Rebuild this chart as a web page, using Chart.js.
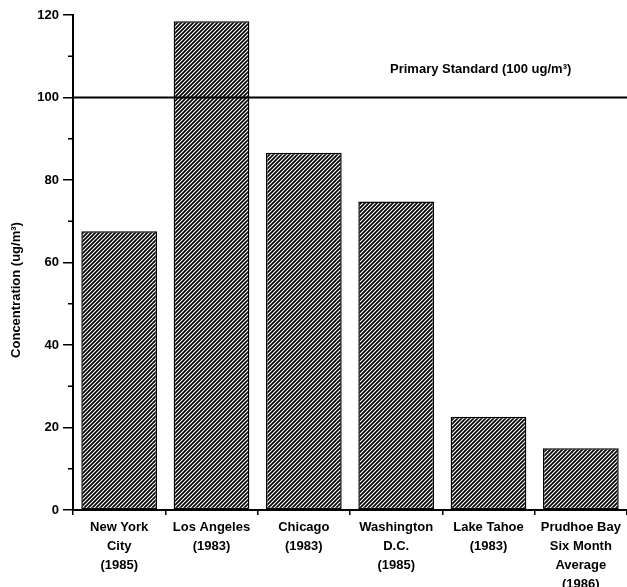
<!DOCTYPE html>
<html lang="en">
<head>
    <meta charset="UTF-8">
    <title>Concentration by City</title>
    <script src="https://cdn.jsdelivr.net/npm/chart.js"></script>
    <style>
        body { margin: 0; background: #fff; }
        #chartContainer { width: 627px; height: 587px; }
    </style>
</head>
<body>

<div id="chartContainer">
    <canvas id="concChart" width="627" height="587"></canvas>
</div>

<script>
    const tickLabels = [
        ['New York', 'City', '(1985)'],
        ['Los Angeles', '(1983)'],
        ['Chicago', '(1983)'],
        ['Washington', 'D.C.', '(1985)'],
        ['Lake Tahoe', '(1983)'],
        ['Prudhoe Bay', 'Six Month', 'Average', '(1986)']
    ];
    const concentration = [67.6, 118.5, 86.6, 74.8, 22.6, 15.0];
    const yTicks = [0, 20, 40, 60, 80, 100, 120];
    const minorTicks = [10, 30, 50, 70, 90, 110];
    const standardValue = 100;
    const standardLabel = 'Primary Standard (100 ug/m\u00B3)';
    const yTitle = 'Concentration (ug/m\u00B3)';

    const FONT = "'Liberation Sans', Arial, sans-serif";

    // diagonal hatch fill
    function makeHatch() {
        const c = document.createElement('canvas');
        c.width = 4; c.height = 4;
        const g = c.getContext('2d');
        g.fillStyle = '#fff';
        g.fillRect(0, 0, 4, 4);
        g.strokeStyle = '#000';
        g.lineWidth = 1.7;
        g.beginPath();
        g.moveTo(-1, 5); g.lineTo(5, -1);
        g.moveTo(-1, 1); g.lineTo(1, -1);
        g.moveTo(3, 5); g.lineTo(5, 3);
        g.stroke();
        return g.createPattern(c, 'repeat');
    }

    const ctx = document.getElementById('concChart').getContext('2d');

    const extras = {
        id: 'extras',
        afterDatasetsDraw(chart) {
            const ys = chart.scales.y;
            const y = ys.getPixelForValue(standardValue);
            const area = chart.chartArea;
            const c = chart.ctx;
            c.save();
            c.strokeStyle = '#000';
            c.lineWidth = 1.8;
            c.beginPath();
            c.moveTo(area.left, y);
            c.lineTo(627, y);
            c.stroke();

            c.fillStyle = '#000';
            c.font = 'bold 13px ' + FONT;
            c.textAlign = 'left';
            c.textBaseline = 'middle';
            c.fillText(standardLabel, 390, y - 28);

            // minor ticks on the y axis
            c.lineWidth = 1.5;
            minorTicks.forEach(v => {
                const py = ys.getPixelForValue(v);
                c.beginPath();
                c.moveTo(area.left - 5, py);
                c.lineTo(area.left, py);
                c.stroke();
            });

            // y axis title
            c.translate(16, 290);
            c.rotate(-Math.PI / 2);
            c.textAlign = 'center';
            c.font = 'bold 13px ' + FONT;
            c.fillText(yTitle, 0, 0);
            c.restore();
        }
    };

    new Chart(ctx, {
        type: 'bar',
        data: {
            labels: tickLabels,
            datasets: [{
                data: concentration,
                backgroundColor: makeHatch(),
                borderColor: '#000',
                borderWidth: 1.5,
                borderSkipped: false,
                barPercentage: 0.82,
                categoryPercentage: 1.0
            }]
        },
        options: {
            responsive: false,
            animation: false,
            layout: { padding: { top: 15, right: 0, left: 0, bottom: 0 } },
            plugins: {
                legend: { display: false },
                tooltip: { enabled: false }
            },
            scales: {
                x: {
                    grid: { display: true, drawOnChartArea: false, tickLength: 5, color: '#000', lineWidth: 1.5 },
                    border: { display: true, color: '#000', width: 2 },
                    ticks: {
                        color: '#000',
                        font: { family: FONT, weight: 'bold', size: 13, lineHeight: 1.45 },
                        maxRotation: 0,
                        autoSkip: false,
                        padding: 3
                    },
                    afterFit(scale) { scale.height = 77; }
                },
                y: {
                    min: 0,
                    max: 120,
                    afterBuildTicks(scale) { scale.ticks = yTicks.map(v => ({ value: v })); },
                    grid: { display: true, drawOnChartArea: false, tickLength: 10, color: '#000', lineWidth: 1.5 },
                    border: { display: true, color: '#000', width: 2 },
                    ticks: {
                        color: '#000',
                        font: { family: FONT, weight: 'bold', size: 13 },
                        padding: 4
                    },
                    afterFit(scale) { scale.width = 73; }
                }
            }
        },
        plugins: [extras]
    });
</script>

</body>
</html>
